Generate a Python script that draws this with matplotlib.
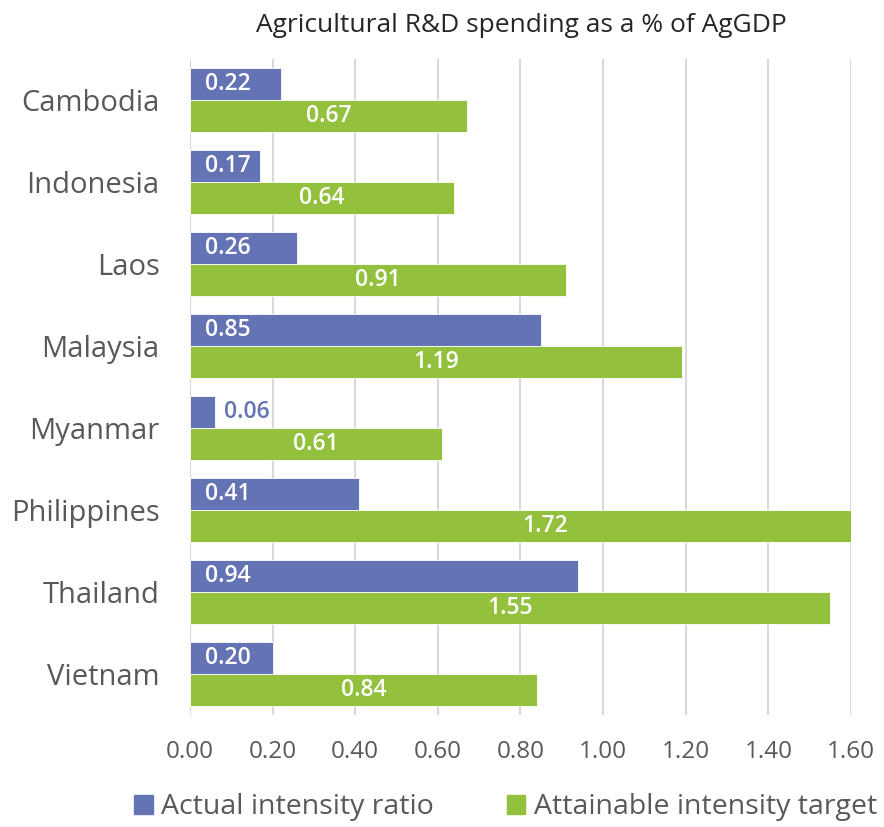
import numpy as np
import matplotlib.pyplot as plt
from matplotlib.patches import Patch

plt.rcParams["font.family"] = ["Open Sans", "DejaVu Sans"]

countries = ["Cambodia", "Indonesia", "Laos", "Malaysia", "Myanmar",
             "Philippines", "Thailand", "Vietnam"]
actual = [0.22, 0.17, 0.26, 0.85, 0.06, 0.41, 0.94, 0.20]
target = [0.67, 0.64, 0.91, 1.19, 0.61, 1.72, 1.55, 0.84]
xticks = [0.0, 0.2, 0.4, 0.6, 0.8, 1.0, 1.2, 1.4, 1.6]

blue = "#6473B3"
green = "#93C13E"
grey = "#595959"

fig = plt.figure(figsize=(8.84, 8.27), dpi=100)
ax = fig.add_axes([0.2149, 0.1354, 0.7478, 0.7933])

y = np.arange(len(countries))
off = 0.195
h = 0.38
ax.barh(y - off, actual, height=h, color=blue, edgecolor="white", linewidth=0.6, zorder=3)
ax.barh(y + off, target, height=h, color=green, edgecolor="white", linewidth=0.6, zorder=3)

# labels: blue near base, green centred on full value
for i, v in enumerate(actual):
    if v < 0.1:
        ax.text(v + 0.022, i - off, f"{v:.2f}", color=blue, fontsize=16.5,
                fontweight="semibold", va="center", ha="left", zorder=4)
    else:
        ax.text(0.036, i - off, f"{v:.2f}", color="white", fontsize=16.5,
                fontweight="semibold", va="center", ha="left", zorder=4)
for i, v in enumerate(target):
    ax.text(v / 2, i + off, f"{v:.2f}", color="white", fontsize=16.5,
            fontweight="semibold", va="center", ha="center", zorder=4)

ax.set_xlim(0, 1.6)
ax.set_ylim(len(countries) - 0.5, -0.5)
ax.set_xticks(xticks)
ax.set_xticklabels([f"{t:.2f}" for t in xticks], color=grey, fontsize=17.5)
ax.set_yticks(y)
ax.set_yticklabels(countries, color=grey, fontsize=21)
ax.tick_params(length=0)
ax.tick_params(axis="y", pad=22)
ax.tick_params(axis="x", pad=18)
ax.grid(axis="x", color="#D9D9D9", linewidth=1.5, zorder=0)
for s in ax.spines.values():
    s.set_visible(False)

fig.text(0.590, 0.969, "Agricultural R&D spending as a % of AgGDP",
         ha="center", va="center", fontsize=19, color="#262626")

handles = [Patch(color=blue, label="Actual intensity ratio"),
           Patch(color=green, label="Attainable intensity target")]
fig.legend(handles=handles, loc="center", bbox_to_anchor=(0.572, 0.024), ncol=2,
           frameon=False, fontsize=20.5, labelcolor=grey, handlelength=0.65,
           handleheight=0.65, handletextpad=0.3, columnspacing=2.55)

fig.savefig("out.png", dpi=100)
